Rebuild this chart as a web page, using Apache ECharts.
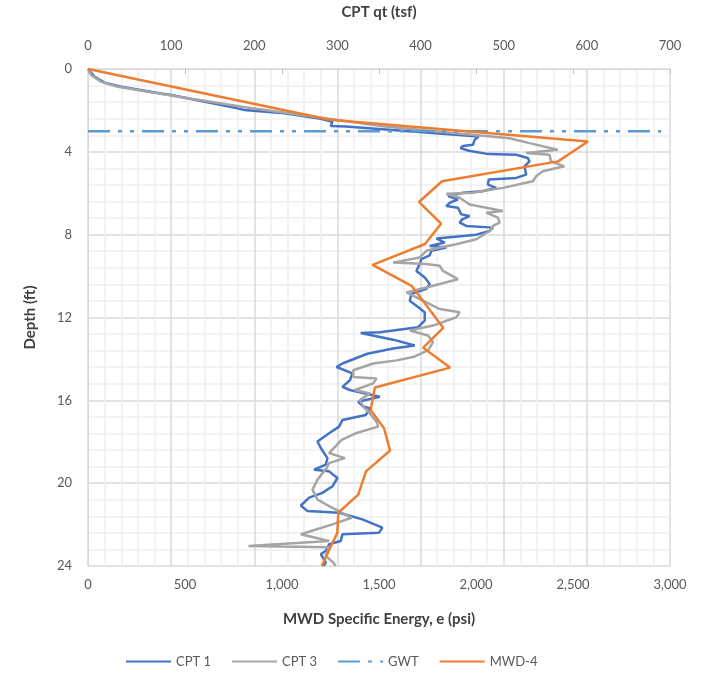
<!DOCTYPE html>
<html>
<head>
<meta charset="utf-8">
<script src="https://cdn.jsdelivr.net/npm/echarts@6/dist/echarts.min.js"></script>
<style>
  html, body { margin: 0; padding: 0; background: #fff; }
  #chart { width: 709px; height: 679px; }
</style>
</head>
<body>
<div id="chart"></div>
<script>
// CPT 1 - depth (ft) vs qt (tsf)
var cpt1Depth = [0, 0.38, 0.66, 0.86, 1.18, 1.26, 1.9, 1.98, 2.14, 2.4, 2.55, 2.75, 2.78, 3.26, 3.42, 3.66, 3.72, 3.82, 3.95, 4.11, 4.14, 4.3, 4.46, 4.7, 5.1, 5.26, 5.34, 5.58, 5.74, 5.9, 5.98, 6.14, 6.3, 6.46, 6.62, 6.7, 7.02, 7.1, 7.26, 7.42, 7.58, 7.66, 7.82, 8.0, 8.18, 8.38, 8.55, 8.62, 8.78, 9.0, 9.18, 9.42, 9.75, 10.07, 10.38, 10.62, 10.86, 11.19, 11.43, 11.75, 12.15, 12.47, 12.71, 12.75, 13.07, 13.35, 13.5, 13.75, 14.22, 14.39, 14.7, 15.03, 15.35, 15.5, 15.83, 16.07, 16.3, 16.39, 16.71, 16.95, 17.27, 17.59, 17.99, 18.3, 18.79, 19.1, 19.35, 19.43, 19.75, 20.15, 20.47, 20.7, 21.08, 21.35, 21.43, 21.75, 22.15, 22.39, 22.47, 22.79, 22.95, 23.27, 23.43, 23.83, 24];
var cpt1Qt = [0, 8, 20, 40, 88, 100, 180, 188, 236, 280, 294, 292, 310, 470, 465, 463, 451, 448, 458, 482, 515, 529, 531, 525, 527, 515, 482, 481, 491, 474, 451, 433, 445, 435, 431, 445, 449, 459, 450, 447, 455, 487, 483, 467, 419, 429, 411, 431, 413, 411, 401, 399, 395, 405, 411, 407, 389, 387, 395, 405, 405, 397, 351, 328, 367, 393, 367, 336, 306, 299, 318, 315, 306, 315, 351, 325, 331, 340, 334, 306, 302, 290, 276, 280, 288, 286, 272, 290, 300, 294, 282, 266, 256, 264, 302, 330, 354, 350, 306, 304, 290, 286, 280, 286, 283];

// CPT 3 - depth (ft) vs qt (tsf)
var cpt3Depth = [0, 0.3, 0.62, 0.86, 1.26, 1.82, 2.38, 2.78, 3.34, 3.58, 3.9, 4.06, 4.14, 4.46, 4.7, 4.94, 5.18, 5.42, 5.74, 5.98, 6.03, 6.22, 6.54, 6.86, 6.94, 7.18, 7.42, 7.58, 7.82, 8.22, 8.46, 8.62, 8.78, 9.1, 9.35, 9.42, 9.5, 9.75, 10.15, 10.3, 10.55, 10.79, 11.27, 11.59, 11.75, 11.99, 12.39, 12.63, 12.87, 13.19, 13.59, 13.91, 14.07, 14.22, 14.55, 14.87, 14.95, 15.18, 15.5, 15.67, 15.99, 16.3, 16.63, 17.03, 17.27, 17.59, 17.91, 18.55, 18.79, 19.03, 19.27, 19.83, 20.31, 20.79, 21.11, 21.67, 21.99, 22.47, 22.79, 23.03, 23.1, 23.51, 23.83, 24];
var cpt3Qt = [0, 4, 16, 36, 96, 185, 285, 357, 507, 531, 565, 527, 555, 557, 573, 547, 539, 535, 499, 463, 431, 447, 459, 499, 479, 493, 495, 487, 483, 467, 443, 423, 407, 399, 367, 407, 423, 427, 445, 431, 407, 383, 407, 423, 447, 443, 415, 387, 409, 415, 409, 391, 371, 343, 319, 319, 347, 343, 321, 339, 327, 331, 339, 347, 349, 322, 305, 290, 309, 290, 287, 276, 270, 276, 290, 317, 294, 256, 290, 193, 290, 286, 295, 298];

// GWT - depth (ft) vs specific energy (psi)
var gwtDepth = [3, 3];
var gwtEnergy = [0, 2955];

// MWD-4 - depth (ft) vs specific energy (psi)
var mwdDepth = [0, 2.45, 3.5, 4.46, 5.42, 6.42, 7.47, 8.45, 9.46, 10.47, 12.5, 13.46, 14.42, 15.38, 16.47, 17.35, 18.42, 19.43, 20.55, 21.43, 22.39, 23.83, 24];
var mwdEnergy = [0, 1247, 2577, 2423, 1825, 1706, 1820, 1737, 1467, 1668, 1831, 1728, 1866, 1479, 1457, 1526, 1557, 1433, 1393, 1290, 1285, 1213, 1205];

function pairs(xs, ys) {
    return xs.map(function (x, i) { return [x, ys[i]]; });
}

var FONT = 'Lato, "Open Sans", sans-serif';
var TXT = '#595959';
var MAJOR = '#d9d9d9';
var MINOR = '#f0f0f0';

var chart = echarts.init(document.getElementById('chart'));

chart.setOption({
    animation: false,
    textStyle: { fontFamily: FONT, color: TXT },
    grid: { left: 88, right: 39, top: 67, bottom: 113, containLabel: false },
    legend: {
        bottom: 6,
        left: 120,
        itemWidth: 45,
        itemHeight: 10,
        itemGap: 20,
        itemStyle: { opacity: 0 },
        textStyle: { fontFamily: FONT, fontSize: 13, color: TXT },
        data: ['CPT 1', 'CPT 3', 'GWT', 'MWD-4']
    },
    xAxis: [
        {
            type: 'value',
            position: 'bottom',
            min: 0, max: 3000, interval: 500,
            name: 'MWD Specific Energy, e (psi)',
            nameLocation: 'middle',
            nameGap: 46,
            nameTextStyle: { fontFamily: FONT, fontSize: 15, fontWeight: 'bold', color: '#404040' },
            axisLine: { show: true, lineStyle: { color: '#bfbfbf', width: 1 } },
            axisTick: { show: true, length: 5, inside: false, lineStyle: { color: '#bfbfbf' } },
            axisLabel: {
                margin: 12, fontSize: 13, color: TXT,
                formatter: function (v) { return v.toLocaleString('en-US'); }
            },
            splitLine: { show: false }
        },
        {
            type: 'value',
            position: 'top',
            min: 0, max: 700, interval: 100,
            name: 'CPT qt (tsf)',
            nameLocation: 'middle',
            nameGap: 49,
            nameTextStyle: { fontFamily: FONT, fontSize: 15, fontWeight: 'bold', color: '#404040' },
            axisLine: { show: true, lineStyle: { color: MAJOR } },
            axisTick: { show: false },
            axisLabel: { margin: 17, fontSize: 13, color: TXT },
            splitLine: { show: true, lineStyle: { color: MAJOR, width: 1.5 } },
            minorTick: { show: false, splitNumber: 5 },
            minorSplitLine: { show: true, lineStyle: { color: MINOR, width: 1.5 } }
        }
    ],
    yAxis: {
        type: 'value',
        inverse: true,
        min: 0, max: 24, interval: 4,
        name: 'Depth (ft)',
        nameLocation: 'middle',
        nameGap: 50,
        nameRotate: 90,
        nameTextStyle: { fontFamily: FONT, fontSize: 15, fontWeight: 'bold', color: '#404040' },
        axisLine: { show: true, lineStyle: { color: MAJOR } },
        axisTick: { show: false },
        axisLabel: { margin: 16, fontSize: 13, color: TXT },
        splitLine: { show: true, lineStyle: { color: MAJOR, width: 1.5 } },
        minorTick: { show: false, splitNumber: 5 },
        minorSplitLine: { show: true, lineStyle: { color: MINOR, width: 1.5 } }
    },
    series: [
        {
            name: 'CPT 1',
            type: 'line',
            xAxisIndex: 1,
            showSymbol: false,
            symbol: 'none',
            color: '#4472C4',
            lineStyle: { width: 2.5, color: '#4472C4' },
            data: pairs(cpt1Qt, cpt1Depth)
        },
        {
            name: 'CPT 3',
            type: 'line',
            xAxisIndex: 1,
            showSymbol: false,
            symbol: 'none',
            color: '#A5A5A5',
            lineStyle: { width: 2.5, color: '#A5A5A5' },
            data: pairs(cpt3Qt, cpt3Depth)
        },
        {
            name: 'GWT',
            type: 'line',
            xAxisIndex: 0,
            showSymbol: false,
            symbol: 'none',
            color: '#5B9BD5',
            lineStyle: { width: 2.5, color: '#5B9BD5', type: [22, 8, 4, 8, 4, 8] },
            data: pairs(gwtEnergy, gwtDepth)
        },
        {
            name: 'MWD-4',
            type: 'line',
            xAxisIndex: 0,
            showSymbol: false,
            symbol: 'none',
            color: '#ED7D31',
            lineStyle: { width: 2.5, color: '#ED7D31' },
            data: pairs(mwdEnergy, mwdDepth)
        }
    ]
});
</script>
</body>
</html>
